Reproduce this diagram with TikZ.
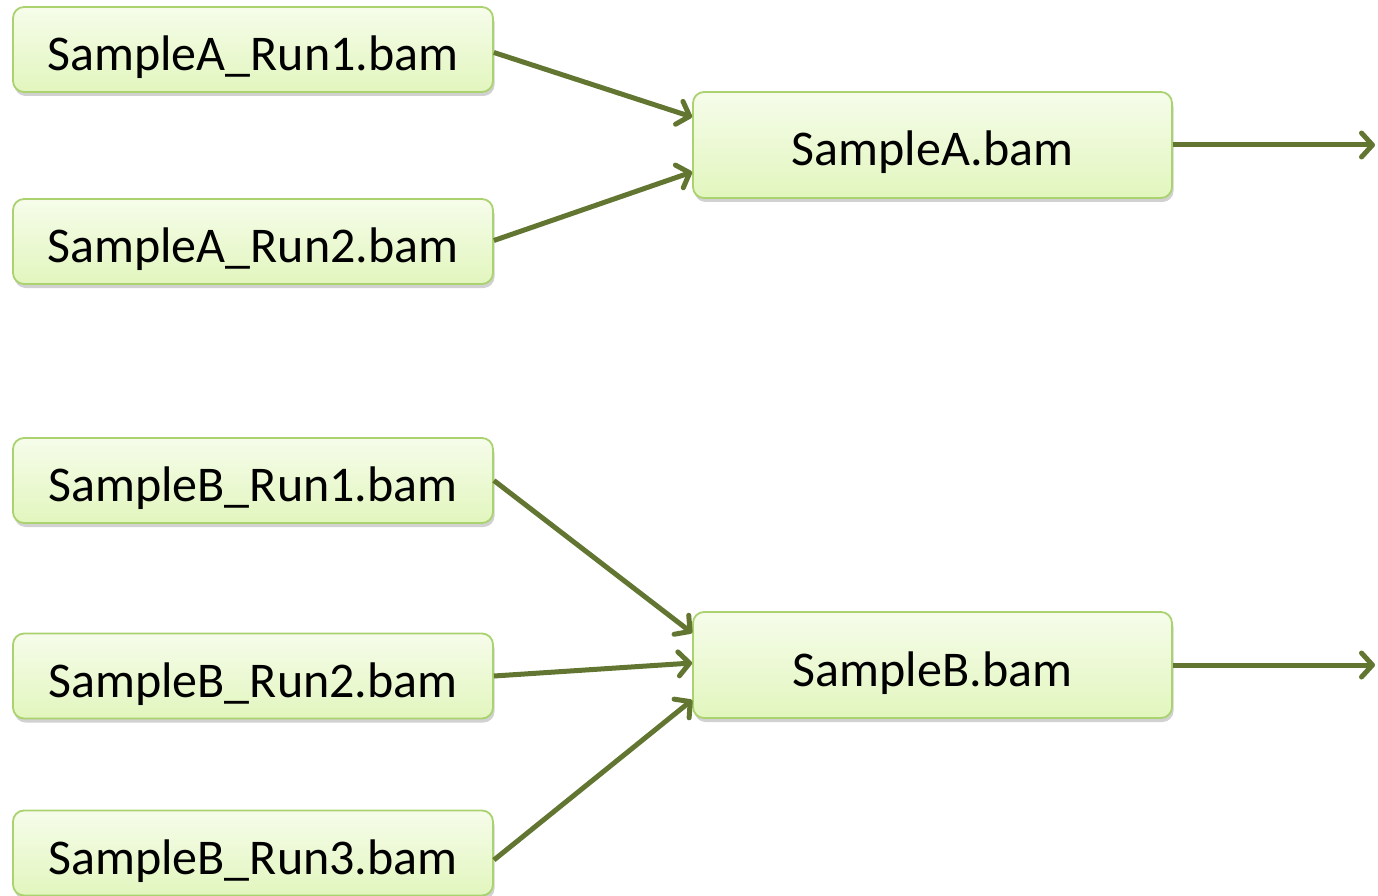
\documentclass[tikz,border=0pt]{standalone}
\usepackage{fontspec}
\setmainfont{Carlito}
\usetikzlibrary{arrows.meta,shadows,calc}
\definecolor{edgecol}{RGB}{98,118,50}
\definecolor{boxtop}{RGB}{246,252,234}
\definecolor{boxbot}{RGB}{226,246,190}
\definecolor{boxline}{RGB}{170,210,110}
\tikzset{
  filebox/.style={rectangle, rounded corners=11pt, draw=boxline, line width=1.8pt,
    top color=boxtop, bottom color=boxbot, minimum width=480pt, minimum height=85pt,
    inner sep=0pt, font=\fontsize{50}{56}\selectfont, text height=42pt, text depth=0pt,
    drop shadow={shadow xshift=1.5pt, shadow yshift=-4pt, opacity=0.3, fill=black!60}},
  mergebox/.style={filebox, minimum width=479pt, minimum height=106pt},
  flow/.style={draw=edgecol, line width=5pt,
    -{Straight Barb[length=11pt,width=24pt,line cap=round,line join=round]}}
}
\begin{document}
\begin{tikzpicture}[x=1pt,y=-1pt]
\useasboundingbox (0,0) rectangle (1378,896);
\node[filebox] (a1) at (253,49.5) {SampleA\_Run1.bam};
\node[filebox] (a2) at (253,241.5) {SampleA\_Run2.bam};
\node[filebox] (b1) at (253,480.5) {SampleB\_Run1.bam};
\node[filebox] (b2) at (253,676) {SampleB\_Run2.bam};
\node[filebox] (b3) at (253,853) {SampleB\_Run3.bam};
\node[mergebox] (A) at (932.5,145) {SampleA.bam};
\node[mergebox] (B) at (932.5,665) {SampleB.bam};
\coordinate (outA) at (1375,145);
\coordinate (outB) at (1375,665);
\draw[flow] ($(a1.east)+(0,3)$) -- ($(A.west)+(0,-28)$);
\draw[flow] ($(a2.east)+(0,-1)$) -- ($(A.west)+(0,27)$);
\draw[flow] (A.east) -- (outA);
\draw[flow] (b1.east) -- ($(B.west)+(0,-32)$);
\draw[flow] (b2.east) -- ($(B.west)+(0,-2)$);
\draw[flow] ($(b3.east)+(0,7)$) -- ($(B.west)+(0,35)$);
\draw[flow] (B.east) -- (outB);
\end{tikzpicture}
\end{document}
